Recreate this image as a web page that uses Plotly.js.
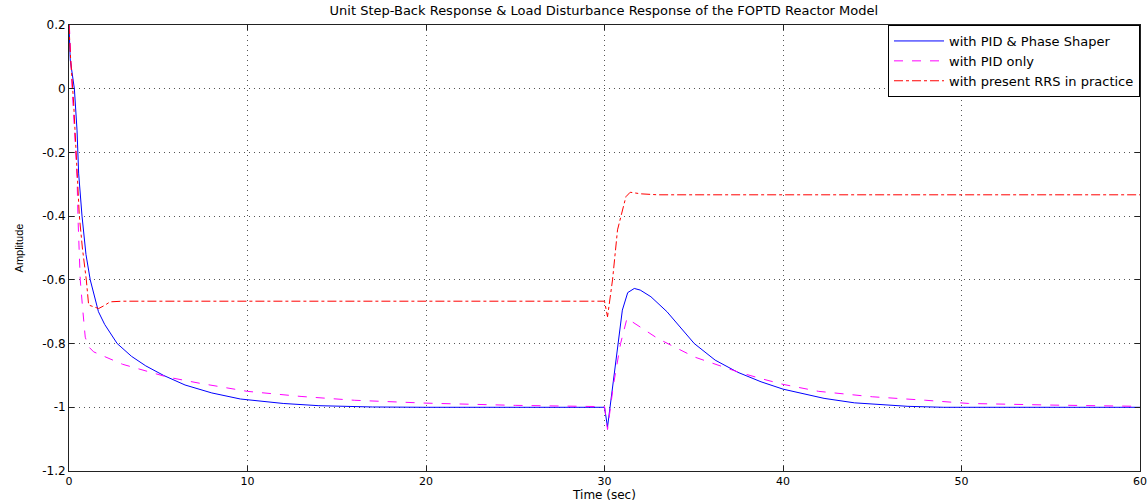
<!DOCTYPE html>
<html>
<head>
<meta charset="utf-8">
<script src="https://cdn.plot.ly/plotly-3.0.1.min.js"></script>
<style>
  html, body { margin: 0; padding: 0; background: #ffffff; }
  #chart { width: 1148px; height: 502px; }
</style>
</head>
<body>
<div id="chart"></div>
<script>
// ---- Data ----
const tShaper = [0, 0.07, 0.3, 0.45, 0.54, 0.73, 0.95, 1.19, 1.65, 2.0, 2.7, 3.5, 4.3, 5.3, 6.5, 8, 9.6, 12, 14, 17, 20, 30,
                 30.17, 30.4, 30.64, 31.0, 31.3, 31.67, 32.0, 32.6, 33.5, 35.03, 36.2, 37.46, 38.77, 40, 42.3, 44, 47, 49, 60];
const yShaper = [0.2, 0.09, 0.0, -0.13, -0.265, -0.4, -0.52, -0.6, -0.7, -0.74, -0.8, -0.84, -0.87, -0.9, -0.93, -0.955, -0.974, -0.988, -0.995, -0.999, -1, -1,
                 -1.062, -0.96, -0.852, -0.695, -0.64, -0.627, -0.632, -0.653, -0.7, -0.8, -0.852, -0.89, -0.92, -0.943, -0.972, -0.986, -0.997, -1, -1];

const tPid = [0, 0.03, 0.17, 0.35, 0.45, 0.5, 0.63, 0.78, 0.91, 1.1, 1.38, 3, 5.5, 7.36, 10, 13, 16, 20, 25, 30,
              30.17, 30.5, 30.9, 31.26, 32.98, 35.03, 37.47, 38.77, 40, 42, 45, 48, 50.4, 55, 60];
const yPid = [0.2, 0.186, 0.007, -0.2, -0.276, -0.4, -0.6, -0.7, -0.78, -0.81, -0.826, -0.865, -0.905, -0.925, -0.95, -0.966, -0.978, -0.987, -0.994, -0.998,
              -1.07, -0.93, -0.8, -0.721, -0.784, -0.842, -0.889, -0.91, -0.928, -0.95, -0.967, -0.978, -0.988, -0.993, -0.997];

const tRrs = [0, 0.07, 0.26, 0.58, 0.75, 0.97, 1.1, 1.66, 2.0, 2.3, 3, 30,
              30.17, 30.45, 30.73, 31.0, 31.2, 31.44, 32.04, 32.98, 60];
const yRrs = [0.2, 0.112, -0.045, -0.4, -0.5, -0.6, -0.679, -0.69, -0.68, -0.669, -0.667, -0.667,
              -0.716, -0.6, -0.443, -0.38, -0.339, -0.325, -0.33, -0.333, -0.333];

const seriesNames = ["with PID & Phase Shaper", "with PID only", "with present RRS in practice"];
const xTicks = [0, 10, 20, 30, 40, 50, 60];
const xTickText = ["0", "10", "20", "30", "40", "50", "60"];
const yTicks = [-1.2, -1, -0.8, -0.6, -0.4, -0.2, 0, 0.2];
const yTickText = ["-1.2", "-1", "-0.8", "-0.6", "-0.4", "-0.2", "0", "0.2"];
const titleText = "Unit Step-Back Response &amp; Load Disturbance Response of the FOPTD Reactor Model";
const xTitle = "Time (sec)";
const yTitle = "Amplitude";

// ---- Traces ----
const traces = [
  { x: tShaper, y: yShaper, name: seriesNames[0], mode: "lines",
    line: { color: "#0000ff", width: 1 } },
  { x: tPid, y: yPid, name: seriesNames[1], mode: "lines",
    line: { color: "#ff00ff", width: 1, dash: "dash" } },
  { x: tRrs, y: yRrs, name: seriesNames[2], mode: "lines",
    line: { color: "#ff0000", width: 1, dash: "dashdot" } }
];

const fontFam = "DejaVu Sans, Liberation Sans, Arial, sans-serif";

const axisCommon = {
  showline: true, linecolor: "#222222", linewidth: 1, mirror: "ticks",
  ticks: "inside", ticklen: 5, tickcolor: "#222222", tickwidth: 1,
  showgrid: true, gridcolor: "#555555", gridwidth: 1, griddash: "1px,4px",
  zeroline: false, tickmode: "array",
  tickfont: { family: fontFam, size: 12, color: "#000000" }
};

const layout = {
  width: 1148, height: 502,
  margin: { l: 69, r: 8, t: 25, b: 31, pad: 0 },
  paper_bgcolor: "#ffffff", plot_bgcolor: "#ffffff",
  title: { text: titleText, x: 0.526, xanchor: "center", y: 0.988, yanchor: "top",
           font: { family: fontFam, size: 13, color: "#000000" } },
  xaxis: Object.assign({}, axisCommon, {
    range: [0, 60], tickvals: xTicks, ticktext: xTickText,
    tickfont: { family: fontFam, size: 11, color: "#000000" },
    title: { text: xTitle, standoff: 0, font: { family: fontFam, size: 12, color: "#000000" } }
  }),
  yaxis: Object.assign({}, axisCommon, {
    range: [-1.2, 0.2], tickvals: yTicks, ticktext: yTickText,
    title: { text: yTitle, standoff: 16, font: { family: "Liberation Sans, Arial, sans-serif", size: 11, color: "#000000" } }
  }),
  showlegend: true,
  legend: { x: 1, xanchor: "right", y: 1, yanchor: "top",
            bgcolor: "#ffffff", bordercolor: "#000000", borderwidth: 1,
            font: { family: fontFam, size: 13, color: "#000000" },
            tracegroupgap: 0, itemwidth: 50 }
};

Plotly.newPlot("chart", traces, layout, { displayModeBar: false, staticPlot: true });
</script>
</body>
</html>
